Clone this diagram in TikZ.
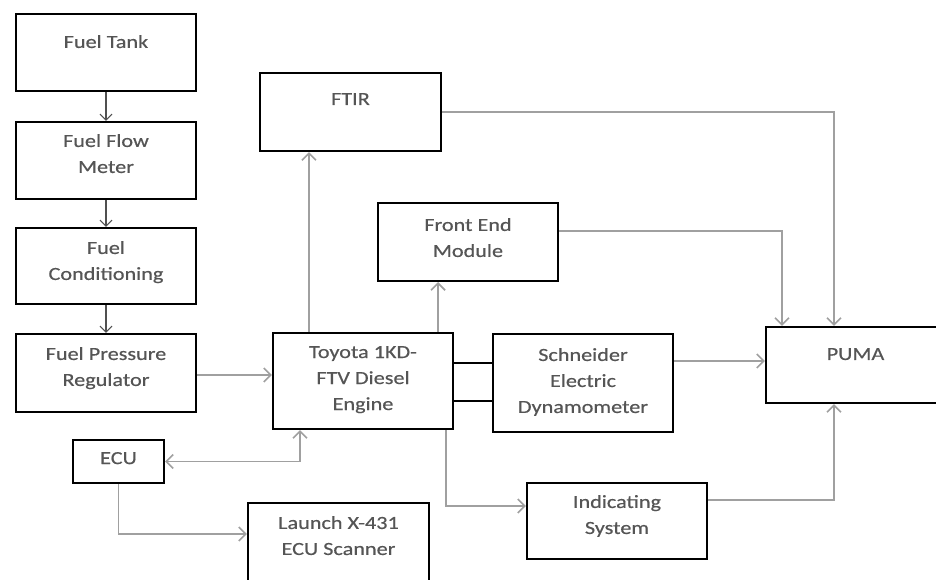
\documentclass[tikz,border=0pt]{standalone}
\usepackage{fontspec}
\setmainfont{Carlito}[FakeStretch=1.2, FakeBold=0.5]
\usetikzlibrary{arrows.meta, positioning}
\definecolor{linegray}{HTML}{A0A0A0}
\definecolor{textgray}{HTML}{555555}
\definecolor{feedgray}{HTML}{505050}

\begin{document}
\begin{tikzpicture}[
        x=1pt, y=-1pt, >={Straight Barb[length=7pt,width=14pt]},
        blk/.style={draw=black, line width=2.2pt, minimum width=180pt, minimum height=78pt, inner sep=0pt},
        txt/.style={text=textgray, align=center, inner sep=0pt, font=\fontsize{18.5}{26}\selectfont},
        link/.style={draw=linegray, line width=1.6pt, ->},
        feed/.style={draw=feedgray, line width=1.1pt, ->, >={Straight Barb[length=6pt,width=12pt]}},
        shaft/.style={draw=black, line width=2.2pt},
        ]
        \useasboundingbox (0,0) rectangle (936,580);

        % fuel supply column
        \node[blk, minimum height=77pt] (tank)  at (106,52.5) {};
        \node[blk, minimum height=77pt] (flow)  at (106,160.5) {};
        \node[blk, minimum height=76pt] (cond)  at (106,266) {};
        \node[blk]                      (press) at (106,373) {};
        \node[txt, below=22pt of tank.north]  (tank-t)  {Fuel Tank};
        \node[txt, below=13pt of flow.north]  (flow-t)  {Fuel Flow\\Meter};
        \node[txt, below=14pt of cond.north]  (cond-t)  {Fuel\\Conditioning};
        \node[txt, below=14pt of press.north] (press-t) {Fuel Pressure\\Regulator};

        % engine and control
        \node[blk, minimum height=96pt]                     (engine) at (363,381) {};
        \node[blk, minimum width=91pt, minimum height=43pt] (ecu)    at (118.5,461.5) {};
        \node[blk, minimum width=181pt, minimum height=80pt] (launch) at (338.5,543) {};
        \node[txt, below=14pt of engine.north] (engine-t) {Toyota 1KD-\\FTV Diesel\\Engine};
        \node[txt, below=13pt of ecu.north]    (ecu-t)    {ECU};
        \node[txt, below=14pt of launch.north] (launch-t) {Launch X-431\\ECU Scanner};

        % measurement
        \node[blk, minimum width=181pt]                       (ftir)  at (350.5,112) {};
        \node[blk]                                            (front) at (468,242) {};
        \node[blk, minimum height=98pt]                       (dyno)  at (583,383) {};
        \node[blk, minimum width=179pt, minimum height=76pt]  (puma)  at (855.5,365) {};
        \node[blk, minimum height=76pt]                       (indic) at (617,521) {};
        \node[txt, below=21pt of ftir.north]  (ftir-t)  {FTIR};
        \node[txt, below=16pt of front.north] (front-t) {Front End\\Module};
        \node[txt, below=15pt of dyno.north]  (dyno-t)  {Schneider\\Electric\\Dynamometer};
        \node[txt, below=22pt of puma.north]  (puma-t)  {PUMA};
        \node[txt, below=13pt of indic.north] (indic-t) {Indicating\\System};

        \draw[feed] (tank) -- (flow);
        \draw[feed] (flow) -- (cond);
        \draw[feed] (cond) -- (press);

        \draw[link] ([yshift=-2pt]press.east) -- ([yshift=-2pt]press.east -| engine.west);
        \draw[link] ([xshift=37pt]engine.north west) -- ([xshift=37pt]engine.north west |- ftir.south);
        \draw[link] ([xshift=-16pt]engine.north east) -- ([xshift=-16pt]engine.north east |- front.south);
        \draw[shaft] ([yshift=18pt]engine.east) -- ([yshift=18pt]engine.east -| dyno.west);
        \draw[shaft] ([yshift=-20pt]engine.east) -- ([yshift=-20pt]engine.east -| dyno.west);

        \draw[link] (ftir.east) -| ([xshift=-21.5pt]puma.north);
        \draw[link] ([yshift=11pt]front.east) -| ([xshift=-73.5pt]puma.north);
        \draw[link] ([yshift=22pt]dyno.east) -- ([yshift=22pt]dyno.east -| puma.west);
        \draw[link] ([yshift=21pt]indic.east) -| ([xshift=-21.5pt]puma.south);
        \draw[link] ([xshift=-8pt]engine.south east) |- ([yshift=15pt]indic.west);

        \draw[link, <->] (ecu.east) -| ([xshift=-63pt]engine.south);
        \draw[link] (ecu.south) |- ([yshift=9pt]launch.west);
      \end{tikzpicture}
\end{document}
